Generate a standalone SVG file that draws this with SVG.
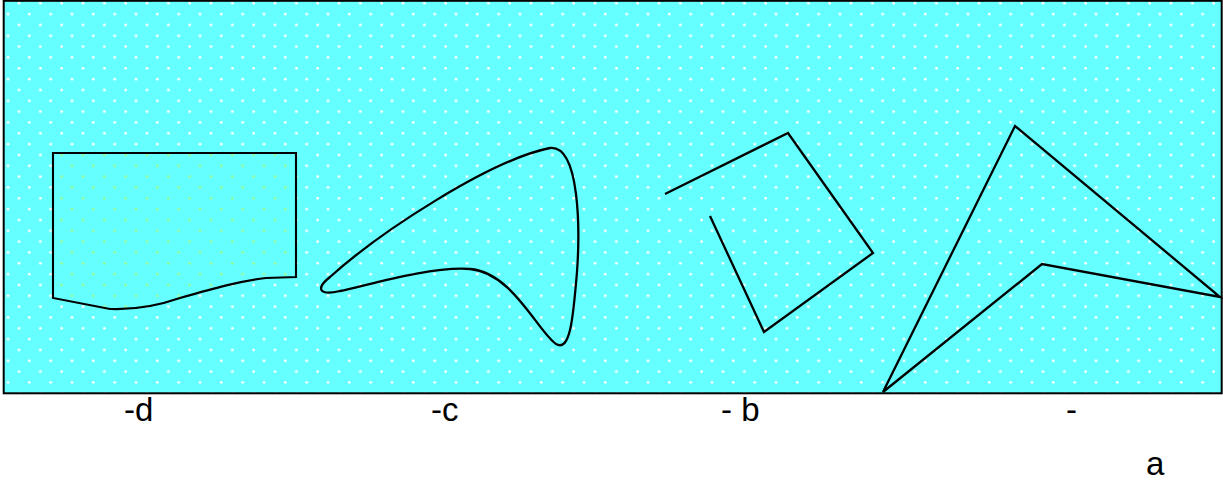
<svg xmlns="http://www.w3.org/2000/svg" width="1223" height="482" viewBox="0 0 1223 482">
<defs>
<pattern id="dots" patternUnits="userSpaceOnUse" width="21.333" height="21.667">
<rect width="21.333" height="21.667" fill="#66ffff"/>
<circle cx="19" cy="3.3" r="1.4" fill="#ffffff"/>
<circle cx="8" cy="14.1" r="1.4" fill="#ffffff"/>
</pattern>
<pattern id="gdots" patternUnits="userSpaceOnUse" width="21.333" height="21.667">
<rect width="21.333" height="21.667" fill="#66ffff"/>
<circle cx="19" cy="3.3" r="1.4" fill="#99ff99"/>
<circle cx="8" cy="14.1" r="1.4" fill="#99ff99"/>
</pattern>
</defs>
<style>
.sh{fill:none;stroke:#000;stroke-width:2.3;stroke-linejoin:miter}
.lbl{font-family:"Liberation Sans",Arial,sans-serif;font-size:33px;fill:#000}
</style>
<rect id="frame" x="3.7" y="0.8" width="1218" height="392.5" fill="url(#dots)" stroke="#000" stroke-width="2"/>
<g id="connectors"></g>
<g id="shape-d">
<path d="M53,153 L296,153 L296,277 L266,278 C240,281 215,288 180,298 C160,305 135,310 110,309 L53,298 Z" fill="url(#gdots)" stroke="#000" stroke-width="2.1"/>
</g>
<g id="shape-c">
<path class="sh" stroke-width="2" d="M550,148 C580,145 580,230 577,272 C573,320 570,352 556,344 C538,332 512,272 470,269 C430,266 365,286 340,291 C318,296 316,288 330,277 C380,232 490,160 550,148 Z"/>
</g>
<g id="shape-b">
<polyline class="sh" points="665,194 788,133 873,253 764,332 710,216"/>
</g>
<g id="shape-a">
<polygon class="sh" points="883,392 1015,126 1220,297 1042,264"/>
</g>
<g id="labels">
<text class="lbl" x="124" y="421">-d</text>
<text class="lbl" x="431" y="421">-c</text>
<text class="lbl" x="721" y="421">- b</text>
<text class="lbl" x="1066" y="421">-</text>
<text class="lbl" x="1146" y="475">a</text>
</g>
</svg>
